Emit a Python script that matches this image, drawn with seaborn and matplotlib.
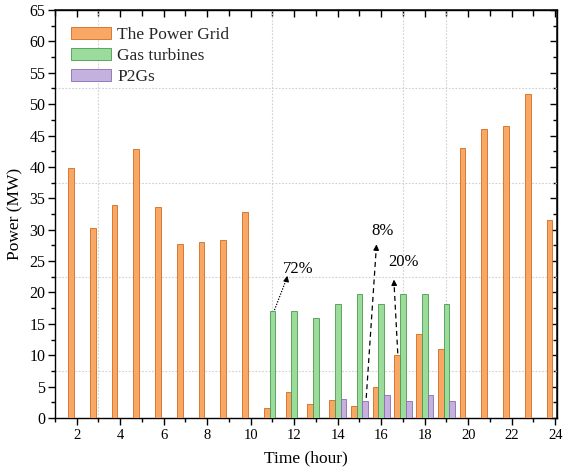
import matplotlib
matplotlib.use("Agg")
import matplotlib.pyplot as plt
from matplotlib.ticker import MultipleLocator
import numpy as np
import pandas as pd
import seaborn as sns

# Hourly dispatch (MW)
hours = list(range(2, 25))
power_grid = [39.8, 30.2, 33.9, 42.8, 33.6, 27.7, 28.0, 28.3, 32.8, 1.6, 4.1, 2.2,
              2.9, 1.9, 5.0, 10.0, 13.4, 11.0, 43.0, 46.0, 46.5, 51.6, 31.5]
gas_turbines = [0, 0, 0, 0, 0, 0, 0, 0, 0, 17.0, 17.1, 16.0,
                18.1, 19.7, 18.1, 19.7, 19.7, 18.2, 0, 0, 0, 0, 0]
p2gs = [0, 0, 0, 0, 0, 0, 0, 0, 0, 0, 0, 0,
        3.1, 2.7, 3.6, 2.7, 3.6, 2.7, 0, 0, 0, 0, 0]
series_names = ["The Power Grid", "Gas turbines", "P2Gs"]

df = pd.DataFrame({
    "hour": hours * 3,
    "power": power_grid + gas_turbines + p2gs,
    "source": [n for n in series_names for _ in hours],
})

sns.set_theme(style="white")
plt.rcParams["font.family"] = ["Liberation Serif", "DejaVu Serif"]

fills = ["#F8A764", "#9BDB9B", "#C5B1DD"]
edges = ["#D06A20", "#4A9A4A", "#8A6CB4"]

fig = plt.figure(figsize=(5.65, 4.74), dpi=100)
ax = fig.add_axes([0.0973, 0.1181, 0.8885, 0.8608])

sns.barplot(data=df, x="hour", y="power", hue="source", hue_order=series_names,
            palette=fills, saturation=1, native_scale=True, width=0.8, gap=0,
            errorbar=None, ax=ax, zorder=3)

for container, ec in zip(ax.containers, edges):
    for bar in container:
        bar.set_edgecolor(ec)
        bar.set_linewidth(0.6)

ax.set_xlim(1, 24.08)
ax.set_ylim(0, 65)

# sparse dotted guide lines
for gx in [3, 11, 17, 19]:
    ax.axvline(gx, color="#d0d0d0", lw=0.8, ls=(0, (1.5, 1.5)), zorder=1)
for gy in [7.5, 22.5, 37.5, 52.5]:
    ax.axhline(gy, color="#d0d0d0", lw=0.8, ls=(0, (1.5, 1.5)), zorder=1)

ax.xaxis.set_major_locator(MultipleLocator(2))
ax.xaxis.set_minor_locator(MultipleLocator(1))
ax.yaxis.set_major_locator(MultipleLocator(5))
ax.yaxis.set_minor_locator(MultipleLocator(2.5))
ax.set_xticks(range(2, 25, 2))
ax.tick_params(axis="both", which="both", bottom=True, left=True, top=False, right=False)
ax.tick_params(axis="both", which="major", direction="out", length=5, width=1,
               color="black", labelcolor="black")
ax.tick_params(axis="both", which="minor", direction="out", length=3, width=1,
               color="black")
ax.tick_params(axis="x", labelsize=10.5, pad=3)
ax.tick_params(axis="y", labelsize=11.5, pad=2)

for s in ax.spines.values():
    s.set_color("black")
    s.set_linewidth(1.0)

# inward ticks on the top and right frame
top = ax.secondary_xaxis("top")
top.xaxis.set_major_locator(MultipleLocator(2))
top.xaxis.set_minor_locator(MultipleLocator(1))
top.tick_params(which="both", top=True, labeltop=False)
top.tick_params(which="major", direction="in", length=5, width=1, color="black")
top.tick_params(which="minor", direction="in", length=4, width=1, color="black")
right = ax.secondary_yaxis("right")
right.yaxis.set_major_locator(MultipleLocator(5))
right.yaxis.set_minor_locator(MultipleLocator(2.5))
right.tick_params(which="both", right=True, labelright=False)
right.tick_params(which="major", direction="in", length=5, width=1, color="black")
right.tick_params(which="minor", direction="in", length=3, width=1, color="black")

ax.set_xlabel("Time (hour)", fontsize=12.5, color="black", labelpad=6)
ax.set_ylabel("Power (MW)", fontsize=12.5, color="black", labelpad=4)

leg = ax.legend(loc="upper left", bbox_to_anchor=(0.012, 0.985), frameon=False,
                fontsize=12.5, handlelength=2.3, handleheight=0.7,
                labelspacing=0.3, handletextpad=0.35, borderaxespad=0.2)
for h, ec in zip(leg.legend_handles, edges):
    h.set_edgecolor(ec)
    h.set_linewidth(0.6)

# share annotations
ax.plot([11.09, 11.66], [17.2, 22.3], color="black", lw=0.9, ls=(0, (1, 1.2)), zorder=5)
ax.annotate("", xy=(11.71, 23.1), xytext=(11.62, 21.6),
            arrowprops=dict(arrowstyle="-|>", color="black", lw=0.9, mutation_scale=8), zorder=5)
ax.text(12.2, 23.7, "72%", fontsize=12, ha="center", va="center", color="black")

ax.plot([15.31, 15.77], [3.2, 27.0], color="black", lw=0.9, ls=(0, (4, 3)), zorder=5)
ax.annotate("", xy=(15.79, 28.1), xytext=(15.76, 26.3),
            arrowprops=dict(arrowstyle="-|>", color="black", lw=0.9, mutation_scale=8), zorder=5)
ax.text(16.07, 29.8, "8%", fontsize=12, ha="center", va="center", color="black")

ax.plot([16.76, 16.59], [10.3, 21.4], color="black", lw=0.9, ls=(0, (4, 3)), zorder=5)
ax.annotate("", xy=(16.58, 22.5), xytext=(16.6, 20.8),
            arrowprops=dict(arrowstyle="-|>", color="black", lw=0.9, mutation_scale=8), zorder=5)
ax.text(17.03, 24.8, "20%", fontsize=12, ha="center", va="center", color="black")

fig.savefig("out.png", dpi=100)
